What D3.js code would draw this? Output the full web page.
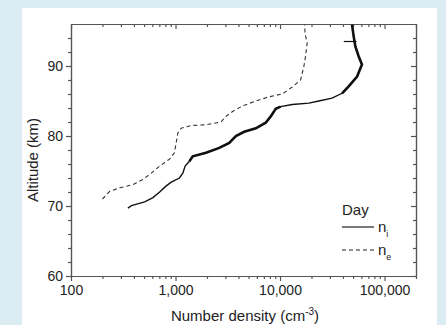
<!DOCTYPE html>
<html>
<head>
<meta charset="utf-8">
<script src="https://cdn.jsdelivr.net/npm/d3@7"></script>
<style>
  body { margin: 0; background: #dbedf3; }
  svg { display: block; font-family: Arial, "Liberation Sans", sans-serif; }
</style>
</head>
<body>
<svg width="446" height="325"></svg>
<script>
// Ion density n_i (solid)
var niDensity = [350, 379, 507, 608, 705, 804, 910, 1091, 1175, 1236, 1358, 1462, 1958, 2624, 3267, 3781, 4540, 5865, 7295, 8147, 9097, 10140, 13100, 18880, 23500, 31450, 39260, 45400, 54600, 60800, 56500, 52600, 50700, 48900];
var niAltitude = [69.7, 70.05, 70.6, 71.2, 72.0, 72.8, 73.4, 74.0, 74.7, 75.7, 76.4, 77.1, 77.6, 78.3, 79.0, 80.0, 80.6, 81.1, 81.9, 82.8, 83.9, 84.2, 84.5, 84.7, 85.0, 85.4, 86.1, 87.1, 88.5, 90.2, 91.4, 92.8, 94.2, 95.9];

// Electron density n_e (dashed)
var neDensity = [200, 235, 293, 392, 489, 587, 705, 877, 977, 1014, 1052, 1132, 1409, 1958, 2722, 3040, 3516, 4375, 5865, 7850, 10520, 13100, 15730, 16940, 17550, 18200, 17300, 17300];
var neAltitude = [71.0, 72.1, 72.6, 73.05, 73.8, 74.7, 75.7, 76.7, 77.6, 79.0, 80.4, 81.1, 81.5, 81.6, 82.0, 82.8, 83.5, 84.3, 85.0, 85.6, 86.0, 87.0, 88.0, 90.0, 91.4, 93.3, 94.7, 95.9];

// short horizontal mark near the top of n_i
var niMarkDensity = [40700, 54000];
var niMarkAltitude = [93.5, 93.5];

var xTickValues = [100, 1000, 10000, 100000];
var yTickValues = [60, 70, 80, 90];

var width = 446, height = 325;
var plotLeft = 71, plotRight = 416, plotTop = 24, plotBottom = 276;

var svg = d3.select("svg");

// white panel
svg.append("rect")
    .attr("x", 22).attr("y", 8)
    .attr("width", 415).attr("height", height - 8)
    .attr("fill", "#fff");

var xScale = d3.scaleLog()
    .domain([100, 200000])
    .range([plotLeft, plotRight]);

var yScale = d3.scaleLinear()
    .domain([60, 96])
    .range([plotBottom, plotTop]);

var xMinor = [];
xTickValues.forEach(function(d) {
  for (var k = 2; k <= 9; k++) if (d * k <= 200000) xMinor.push(d * k);
});
var yMinor = d3.range(62, 96, 2).filter(function(d) { return d % 10 !== 0; });

var fmt = d3.format(",");
var axisColor = "#555";

function styleAxis(g) {
  g.selectAll("path,line").attr("stroke", axisColor).attr("stroke-width", 1.2);
  g.selectAll("text").attr("fill", "#222").style("font-size", "14px");
}

// bottom axis (outward ticks)
svg.append("g")
    .attr("transform", "translate(0," + plotBottom + ")")
    .call(d3.axisBottom(xScale).tickValues(xMinor).tickSize(3).tickFormat("").tickSizeOuter(0))
    .call(styleAxis);
svg.append("g")
    .attr("transform", "translate(0," + plotBottom + ")")
    .call(d3.axisBottom(xScale).tickValues(xTickValues).tickSize(5).tickPadding(4).tickFormat(fmt).tickSizeOuter(0))
    .call(styleAxis);

// top axis (inward ticks)
svg.append("g")
    .attr("transform", "translate(0," + plotTop + ")")
    .call(d3.axisTop(xScale).tickValues(xMinor).tickSize(-3).tickFormat("").tickSizeOuter(0))
    .call(styleAxis);
svg.append("g")
    .attr("transform", "translate(0," + plotTop + ")")
    .call(d3.axisTop(xScale).tickValues(xTickValues).tickSize(-5).tickFormat("").tickSizeOuter(0))
    .call(styleAxis);

// left axis (outward ticks)
svg.append("g")
    .attr("transform", "translate(" + plotLeft + ",0)")
    .call(d3.axisLeft(yScale).tickValues(yMinor).tickSize(3).tickFormat("").tickSizeOuter(0))
    .call(styleAxis);
svg.append("g")
    .attr("transform", "translate(" + plotLeft + ",0)")
    .call(d3.axisLeft(yScale).tickValues(yTickValues).tickSize(5).tickPadding(3).tickSizeOuter(0))
    .call(styleAxis);

// right axis (inward ticks)
svg.append("g")
    .attr("transform", "translate(" + plotRight + ",0)")
    .call(d3.axisRight(yScale).tickValues(yMinor).tickSize(-3).tickFormat("").tickSizeOuter(0))
    .call(styleAxis);
svg.append("g")
    .attr("transform", "translate(" + plotRight + ",0)")
    .call(d3.axisRight(yScale).tickValues(yTickValues).tickSize(-5).tickFormat("").tickSizeOuter(0))
    .call(styleAxis);

// lines
var niData = niDensity.map(function(v, i) { return [v, niAltitude[i]]; });
var neData = neDensity.map(function(v, i) { return [v, neAltitude[i]]; });
var markData = niMarkDensity.map(function(v, i) { return [v, niMarkAltitude[i]]; });

var line = d3.line()
    .x(function(d) { return xScale(d[0]); })
    .y(function(d) { return yScale(d[1]); });

svg.append("path")
    .datum(neData)
    .attr("d", line)
    .attr("fill", "none")
    .attr("stroke", "#333")
    .attr("stroke-width", 1.1)
    .attr("stroke-dasharray", "4,3");

svg.append("path")
    .datum(niData)
    .attr("d", line)
    .attr("fill", "none")
    .attr("stroke", "#111")
    .attr("stroke-width", 1.4);

// noisy parts of the ion profile look thicker
[[76.4, 84.2], [86.1, 96]].forEach(function(r) {
  svg.append("path")
      .datum(niData.filter(function(d) { return d[1] >= r[0] && d[1] <= r[1]; }))
      .attr("d", line)
      .attr("fill", "none")
      .attr("stroke", "#111")
      .attr("stroke-width", 2.6);
});

svg.append("path")
    .datum(markData)
    .attr("d", line)
    .attr("fill", "none")
    .attr("stroke", "#111")
    .attr("stroke-width", 1.2);

// axis labels
svg.append("text")
    .attr("transform", "rotate(-90)")
    .attr("x", -160)
    .attr("y", 38)
    .style("text-anchor", "middle")
    .style("font-size", "15px")
    .attr("fill", "#222")
    .text("Altitude (km)");

var xl = svg.append("text")
    .attr("x", 245)
    .attr("y", 321)
    .style("text-anchor", "middle")
    .style("font-size", "15px")
    .attr("fill", "#222");
xl.append("tspan").text("Number density (cm");
xl.append("tspan").attr("dy", -6).style("font-size", "10px").text("-3");
xl.append("tspan").attr("dy", 6).text(")");

// legend
svg.append("text")
    .attr("x", 342).attr("y", 215)
    .style("font-size", "15px").attr("fill", "#222")
    .text("Day");

var legend = [
  { name: "i", dash: null, y: 227 },
  { name: "e", dash: "4,3", y: 250 }
];
legend.forEach(function(d) {
  svg.append("line")
      .attr("x1", 342).attr("x2", 374)
      .attr("y1", d.y).attr("y2", d.y)
      .attr("stroke", "#222").attr("stroke-width", 1.2)
      .attr("stroke-dasharray", d.dash);
  var t = svg.append("text")
      .attr("x", 378).attr("y", d.y + 5)
      .style("font-size", "15px").attr("fill", "#222");
  t.append("tspan").text("n");
  t.append("tspan").attr("dy", 5).style("font-size", "9px").text(d.name);
});
</script>
</body>
</html>
